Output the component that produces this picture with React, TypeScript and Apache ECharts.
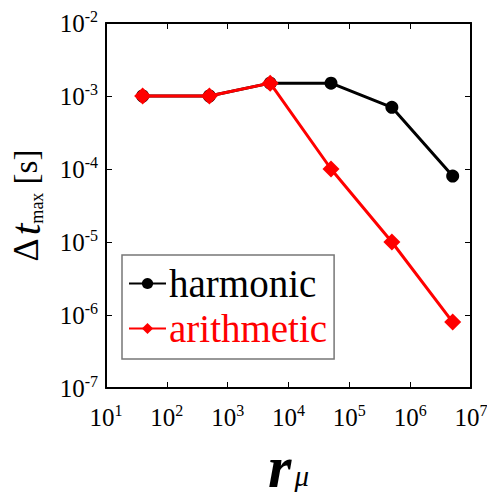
import React, { useEffect, useRef } from "react";
import * as echarts from "echarts";

const rMu = [40, 500, 5000, 50000, 500000, 5000000];
const harmonic = [1e-3, 1e-3, 1.5e-3, 1.5e-3, 7e-4, 8e-5];
const arithmetic = [1e-3, 1e-3, 1.5e-3, 1e-4, 1e-5, 8e-7];
const seriesNames = ["harmonic", "arithmetic"];

const FONT = "'Liberation Serif', 'DejaVu Serif', serif";

const expLabel = (v: number) => {
  const e = Math.round(Math.log10(v));
  return `{b|10}{s|${e}}`;
};

const tickRich = {
  b: { fontFamily: FONT, fontSize: 25, color: "#000", lineHeight: 30 },
  s: { fontFamily: FONT, fontSize: 16, color: "#000", verticalAlign: "top", lineHeight: 16 },
};

export default function App() {
  const ref = useRef<HTMLDivElement>(null);
  useEffect(() => {
    if (!ref.current) return;
    const chart = echarts.init(ref.current, undefined, { renderer: "svg" });
    const axisLine = { show: true, lineStyle: { color: "#000", width: 2 } };
    const axisTick = { show: true, inside: true, length: 6, lineStyle: { color: "#000", width: 1 } };
    chart.setOption({
      animation: false,
      backgroundColor: "#fff",
      textStyle: { fontFamily: FONT },
      grid: { left: 106, top: 23, right: 16, bottom: 104, outerBoundsMode: "none", containLabel: false },
      legend: {
        orient: "vertical",
        left: 122,
        top: 255,
        backgroundColor: "#fff",
        borderColor: "#777",
        borderWidth: 1.5,
        borderRadius: 0,
        padding: [9, 7, 11, 6],
        itemGap: 6,
        itemWidth: 37,
        itemHeight: 14,
        textStyle: { fontFamily: FONT, fontSize: 39, padding: [0, 0, 0, -2] },
        data: [
          { name: seriesNames[0], textStyle: { color: "#000" } },
          { name: seriesNames[1], textStyle: { color: "#ff0000" } },
        ],
      },
      xAxis: [
        {
          type: "log",
          logBase: 10,
          min: 10,
          max: 1e7,
          splitNumber: 6,
          axisLine,
          axisTick,
          splitLine: { show: false },
          minorTick: { show: false },
          axisLabel: { formatter: expLabel, rich: tickRich, margin: 14, fontFamily: FONT, fontSize: 25, color: "#000" },
          name: "{r|r}{mu|μ}",
          nameLocation: "middle",
          nameGap: 56,
          nameTextStyle: {
            fontFamily: FONT,
            rich: {
              r: { fontFamily: FONT, fontSize: 60, fontStyle: "italic", fontWeight: "bold", color: "#000", lineHeight: 46 },
              mu: { fontFamily: FONT, fontSize: 29, fontStyle: "italic", color: "#000", verticalAlign: "bottom", lineHeight: 38, padding: [0, 0, 0, 3] },
            },
          },
        },
        {
          type: "log",
          logBase: 10,
          min: 10,
          max: 1e7,
          splitNumber: 6,
          position: "top",
          axisLine,
          axisTick,
          splitLine: { show: false },
          axisLabel: { show: false },
        },
      ],
      yAxis: [
        {
          type: "log",
          logBase: 10,
          min: 1e-7,
          max: 1e-2,
          splitNumber: 5,
          axisLine,
          axisTick,
          splitLine: { show: false },
          minorTick: { show: false },
          axisLabel: { formatter: expLabel, rich: tickRich, margin: 8, fontFamily: FONT, fontSize: 25, color: "#000" },
          name: "{d|Δ}{t|t}{sub|max}{u| [s]}",
          nameLocation: "middle",
          nameRotate: 90,
          nameGap: 60,
          nameTextStyle: {
            fontFamily: FONT,
            rich: {
              d: { fontFamily: FONT, fontSize: 36, color: "#000", lineHeight: 40 },
              t: { fontFamily: FONT, fontSize: 42, fontStyle: "italic", color: "#000", lineHeight: 40, padding: [0, 0, 0, 3] },
              sub: { fontFamily: FONT, fontSize: 18, color: "#000", verticalAlign: "bottom", lineHeight: 20 },
              u: { fontFamily: FONT, fontSize: 33, color: "#000", lineHeight: 40 },
            },
          },
        },
        {
          type: "log",
          logBase: 10,
          min: 1e-7,
          max: 1e-2,
          splitNumber: 5,
          position: "right",
          axisLine,
          axisTick,
          splitLine: { show: false },
          axisLabel: { show: false },
        },
      ],
      series: [
        {
          name: seriesNames[0],
          type: "line",
          xAxisIndex: 0,
          yAxisIndex: 0,
          data: rMu.map((x, i) => [x, harmonic[i]]),
          symbol: "circle",
          symbolSize: 13,
          color: "#000",
          lineStyle: { color: "#000", width: 3 },
          itemStyle: { color: "#000" },
          z: 2,
        },
        {
          name: seriesNames[1],
          type: "line",
          xAxisIndex: 0,
          yAxisIndex: 0,
          data: rMu.map((x, i) => [x, arithmetic[i]]),
          symbol: "diamond",
          symbolSize: 17,
          color: "#ff0000",
          lineStyle: { color: "#ff0000", width: 3 },
          itemStyle: { color: "#ff0000" },
          z: 3,
        },
      ],
    });
    return () => chart.dispose();
  }, []);
  return <div ref={ref} style={{ width: 487, height: 492, position: "absolute", left: 0, top: 0 }} />;
}
